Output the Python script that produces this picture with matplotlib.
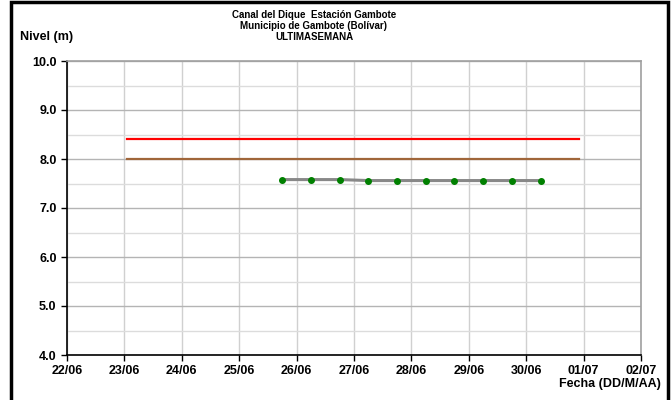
import matplotlib.pyplot as plt
import matplotlib.dates as mdates
import pandas as pd
from matplotlib.patches import Rectangle

# water level readings (every 12 h)
obs_times = pd.to_datetime([
    "2024-06-25 18:00", "2024-06-26 06:00", "2024-06-26 18:00", "2024-06-27 06:00",
    "2024-06-27 18:00", "2024-06-28 06:00", "2024-06-28 18:00", "2024-06-29 06:00",
    "2024-06-29 18:00", "2024-06-30 06:00",
])
obs_levels = [7.58, 7.58, 7.58, 7.56, 7.56, 7.56, 7.56, 7.56, 7.56, 7.56]

# alert thresholds
threshold_span = pd.to_datetime(["2024-06-23 01:00", "2024-06-30 22:00"])
red_level = 8.4
orange_level = 8.0

x_start = pd.Timestamp("2024-06-22")
x_end = pd.Timestamp("2024-07-02")
y_min, y_max = 4.0, 10.0

title_lines = "Canal del Dique  Estación Gambote\nMunicipio de Gambote (Bolívar)\nULTIMASEMANA"

plt.rcParams["font.family"] = ["Liberation Sans", "DejaVu Sans"]
plt.rcParams["font.weight"] = "bold"

fig = plt.figure(figsize=(6.72, 4.0), dpi=100)
fig.patch.set_facecolor("white")

# outer frame
fig.add_artist(Rectangle((11 / 672, -0.02), 657 / 672, 1.015, transform=fig.transFigure,
                         fill=False, edgecolor="black", linewidth=2.5))

ax = fig.add_axes([67 / 672, 45 / 400, 574 / 672, 294 / 400])
ax.set_xlim(x_start, x_end)
ax.set_ylim(y_min, y_max)

ax.xaxis.set_major_locator(mdates.DayLocator())
ax.xaxis.set_major_formatter(mdates.DateFormatter("%d/%m"))
ax.set_yticks([4, 5, 6, 7, 8, 9, 10])
ax.set_yticks([4.5, 5.5, 6.5, 7.5, 8.5, 9.5], minor=True)
ax.yaxis.set_major_formatter(plt.FormatStrFormatter("%.1f"))

ax.grid(True, axis="x", color="#d0d0d0", linewidth=1.0)
ax.grid(True, axis="y", which="major", color="#b4b4b4", linewidth=1.0)
ax.grid(True, axis="y", which="minor", color="#dcdcdc", linewidth=1.0)
ax.set_axisbelow(True)

for side in ["top", "right"]:
    ax.spines[side].set_color("#a0a0a0")
    ax.spines[side].set_linewidth(1.2)
for side in ["left", "bottom"]:
    ax.spines[side].set_color("black")
    ax.spines[side].set_linewidth(1.2)

ax.tick_params(axis="both", which="major", labelsize=9, length=4, width=1, direction="out")
ax.tick_params(axis="y", which="minor", length=0)
for lbl in ax.get_xticklabels() + ax.get_yticklabels():
    lbl.set_fontweight("bold")

ax.plot(threshold_span, [red_level, red_level], color="#ff0000", linewidth=1.6)
ax.plot(threshold_span, [orange_level, orange_level], color="#a0663a", linewidth=1.6)
ax.plot(obs_times, obs_levels, color="#888888", linewidth=2.2, marker="o",
        markersize=4, markerfacecolor="#008000", markeredgecolor="#008000")

fig.text(314 / 672, 1 - 10 / 400, title_lines, ha="center", va="top",
         fontsize=7, fontweight="bold", linespacing=1.1)
fig.text(20 / 672, 1 - 37 / 400, "Nivel (m)", ha="left", va="center",
         fontsize=9, fontweight="bold")
fig.text(661 / 672, 1 - 384 / 400, "Fecha (DD/M/AA)", ha="right", va="center",
         fontsize=9, fontweight="bold")

fig.savefig("out.png", dpi=100)
